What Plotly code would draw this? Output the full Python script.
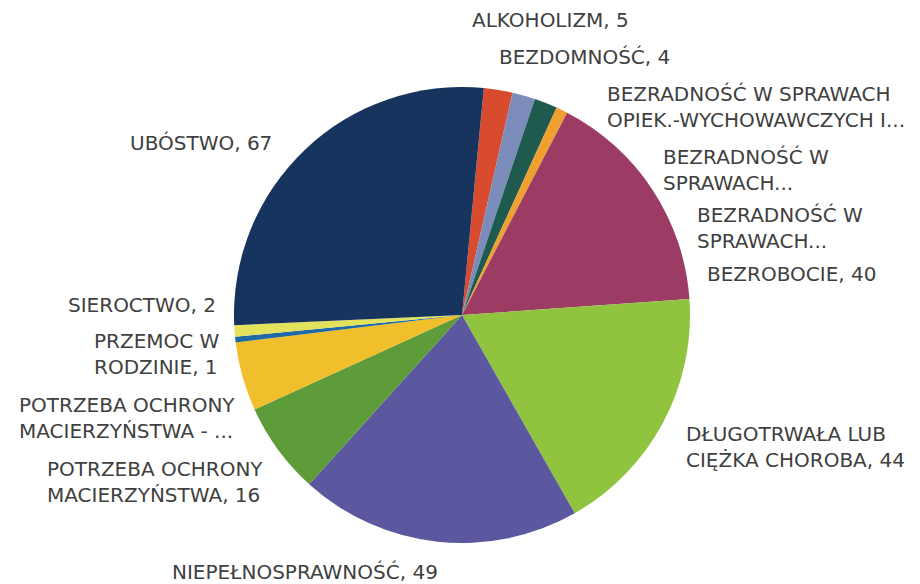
import plotly.graph_objects as go

# the page body adds an 8px margin, so the figure is drawn 8px in from the corner
OFF = 8
W, H = 920 - OFF, 584 - OFF

categories = [
    "ALKOHOLIZM",
    "BEZDOMNOŚĆ",
    "BEZRADNOŚĆ W SPRAWACH<br>OPIEK.-WYCHOWAWCZYCH I...",
    "BEZRADNOŚĆ W<br>SPRAWACH...",
    "BEZRADNOŚĆ W<br>SPRAWACH... ",
    "BEZROBOCIE",
    "DŁUGOTRWAŁA LUB<br>CIĘŻKA CHOROBA",
    "NIEPEŁNOSPRAWNOŚĆ",
    "POTRZEBA OCHRONY<br>MACIERZYŃSTWA",
    "POTRZEBA OCHRONY<br>MACIERZYŃSTWA - ...",
    "PRZEMOC W<br>RODZINIE",
    "SIEROCTWO",
    "UBÓSTWO",
]
values = [5, 4, 4, 2, 0, 40, 44, 49, 16, 12, 1, 2, 67]
show_value = [True, True, False, False, False, True, True, True, True, False, True, True, True]

colors = [
    "#D94B2E",
    "#7B8CBA",
    "#1E5A4E",
    "#F0A02E",
    "#8E6A9A",
    "#9C3C64",
    "#90C43E",
    "#5B58A0",
    "#5E9C3A",
    "#F2BF2C",
    "#1F6AA5",
    "#E2E25C",
    "#17345E",
]

# label placement in window pixels: (x, y, xanchor)
label_pos = [
    (470, 20, "left"),
    (497, 57, "left"),
    (605, 107, "left"),
    (661, 170, "left"),
    (695, 228, "left"),
    (705, 274, "left"),
    (684, 447, "left"),
    (305, 572, "center"),
    (265, 482, "right"),
    (237, 418, "right"),
    (222, 354, "right"),
    (218, 305, "right"),
    (274, 143, "right"),
]


def px_x(x):
    return (x - OFF) / W


def px_y(y):
    return 1 - (y - OFF) / H


fig = go.Figure()
fig.add_trace(
    go.Pie(
        labels=[f"{i}_{c}" for i, c in enumerate(categories)],
        values=values,
        sort=False,
        direction="clockwise",
        rotation=5.5,
        textinfo="none",
        hoverinfo="label+value",
        marker=dict(colors=colors, line=dict(width=0)),
        domain=dict(x=[px_x(234), px_x(690)], y=[px_y(543), px_y(87)]),
        showlegend=False,
    )
)

for cat, val, show, (px, py, anchor) in zip(categories, values, show_value, label_pos):
    text = f"{cat}, {val}" if show else cat
    fig.add_annotation(
        dict(
            text=text,
            xref="paper",
            yref="paper",
            x=px_x(px),
            y=px_y(py),
            xanchor=anchor,
            yanchor="middle",
            align="left",
            showarrow=False,
            font=dict(family="DejaVu Sans", size=20, color="#404040"),
        )
    )

fig.update_layout(
    width=W,
    height=H,
    margin=dict(l=0, r=0, t=0, b=0),
    paper_bgcolor="white",
    plot_bgcolor="white",
)

fig.write_html("out.html")
